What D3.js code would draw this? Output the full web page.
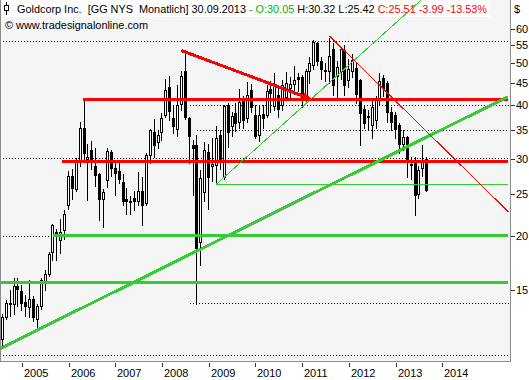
<!DOCTYPE html>
<html>
<head>
<meta charset="utf-8">
<script src="https://cdn.jsdelivr.net/npm/d3@7"></script>
<style>
  html, body { margin: 0; padding: 0; background: #fff; }
  svg { display: block; }
  text { font-family: "Liberation Sans", Arial, sans-serif; font-size: 11px; white-space: pre; }
</style>
</head>
<body>
<svg id="chart" width="529" height="380"></svg>
<script>
// Goldcorp monthly bars, first bar = Aug 2004, last bar = Sep 2013
var opens = [11.6, 13.0, 14.0, 13.9, 15.3, 14.9, 14.1, 13.7, 14.3, 12.9, 13.8, 15.7, 16.3, 18.4, 20.4, 19.6, 20.6, 23.5, 27.5, 25.6,
  29.6, 35.5, 30.0, 31.5, 29.0, 27.7, 24.3, 26.9, 31.2, 28.7, 28.2, 26.6, 24.3, 24.0, 24.5, 24.1, 25.4, 23.8, 30.7, 34.7,
  32.8, 34.6, 37.9, 44.1, 37.3, 35.2, 40.2, 48.0, 37.3, 32.4, 32.4, 19.4, 25.2, 31.2, 29.0, 29.1, 34.1, 27.3, 40.0, 35.8,
  38.4, 36.6, 40.8, 37.4, 43.3, 37.9, 34.2, 38.1, 37.9, 43.5, 39.8, 42.2, 40.0, 41.8, 43.7, 44.7, 46.4, 46.4, 41.4, 48.0,
  49.5, 55.6, 50.4, 48.2, 48.0, 53.9, 46.7, 48.0, 53.6, 45.7, 48.0, 48.8, 45.6, 39.1, 37.8, 36.0, 37.0, 41.0, 46.1, 45.0,
  38.6, 37.9, 36.0, 32.6, 33.8, 29.1, 29.6, 25.0, 28.6, 30.05];
var highs = [13.2, 14.2, 15.0, 16.0, 16.0, 15.4, 14.6, 15.8, 14.5, 13.9, 16.0, 16.7, 18.4, 21.3, 20.7, 21.9, 22.9, 28.2, 28.5, 30.2,
  36.5, 41.3, 32.5, 33.0, 31.9, 27.9, 25.6, 31.9, 31.6, 29.9, 29.6, 27.8, 25.8, 24.7, 25.3, 28.1, 27.3, 31.0, 35.3, 37.1,
  35.0, 38.3, 45.8, 46.7, 40.0, 44.5, 47.8, 53.4, 37.5, 33.2, 34.2, 28.3, 32.9, 32.5, 33.5, 35.8, 35.0, 40.0, 40.5, 38.5,
  40.5, 43.6, 42.0, 45.3, 44.8, 40.0, 40.0, 40.0, 44.5, 45.5, 47.4, 44.0, 45.7, 47.6, 46.5, 49.3, 47.5, 46.8, 48.5, 51.5,
  56.5, 56.0, 51.5, 50.0, 57.0, 55.5, 50.5, 54.5, 55.0, 51.0, 52.5, 50.0, 46.0, 40.0, 39.0, 41.0, 42.0, 47.5, 47.0, 45.5,
  39.5, 38.5, 36.3, 35.0, 34.0, 30.3, 30.3, 29.0, 32.4, 30.32];
var lows = [11.2, 12.9, 13.1, 13.2, 13.8, 13.5, 13.1, 13.0, 12.7, 12.1, 13.6, 15.0, 16.2, 17.6, 17.6, 18.3, 19.7, 23.0, 24.3, 25.3,
  29.0, 30.0, 24.2, 28.5, 26.0, 21.7, 21.0, 25.9, 27.5, 24.8, 26.5, 23.6, 22.5, 22.4, 22.9, 23.5, 21.2, 23.5, 29.4, 30.3,
  31.9, 33.2, 37.5, 37.0, 34.4, 33.9, 39.0, 37.2, 29.4, 24.8, 13.9, 17.1, 24.0, 23.1, 26.8, 26.3, 28.5, 27.0, 32.0, 33.9,
  34.9, 35.5, 35.5, 36.5, 38.5, 33.5, 33.0, 35.5, 37.5, 38.5, 39.0, 37.5, 39.0, 41.0, 41.5, 42.5, 43.0, 39.5, 40.5, 45.0,
  48.5, 49.5, 46.0, 45.5, 45.0, 42.2, 41.5, 46.0, 42.2, 44.0, 46.5, 40.5, 32.4, 35.5, 35.0, 33.5, 35.5, 40.0, 42.0, 36.5,
  35.0, 33.5, 31.0, 31.5, 27.3, 27.0, 22.3, 24.5, 27.5, 25.42];
var closes = [13.0, 14.0, 13.9, 15.3, 15.1, 14.0, 13.8, 14.3, 13.0, 13.8, 15.8, 16.3, 18.2, 21.2, 20.1, 20.4, 22.4, 27.5, 25.8, 29.6,
  35.5, 31.0, 30.3, 30.0, 27.6, 24.3, 25.2, 31.3, 28.6, 27.9, 27.0, 24.0, 24.0, 24.1, 24.0, 25.4, 23.6, 30.7, 35.1, 32.4,
  34.1, 37.3, 43.3, 38.8, 35.7, 40.1, 46.6, 37.5, 34.0, 31.9, 18.7, 27.1, 31.5, 27.3, 29.2, 33.5, 29.6, 39.8, 34.6, 37.7,
  36.4, 40.6, 36.9, 42.2, 39.5, 33.9, 37.9, 37.3, 43.1, 42.6, 44.2, 39.2, 44.5, 44.9, 44.7, 45.7, 45.9, 41.1, 47.8, 50.0,
  56.0, 50.4, 48.4, 47.8, 52.0, 44.5, 49.0, 53.7, 44.5, 48.4, 50.8, 42.4, 38.3, 36.3, 37.5, 39.6, 41.5, 45.4, 43.7, 38.6,
  36.6, 35.3, 32.6, 33.7, 29.9, 29.3, 24.8, 28.3, 29.5, 25.51];

var firstYear = 2004, firstMonth = 8;
var years = [2005, 2006, 2007, 2008, 2009, 2010, 2011, 2012, 2013, 2014];
var priceTicks = [15, 20, 25, 30, 35, 40, 45, 50, 55, 60];

// drawn horizontal levels: [start bar, price]
var redLevels = [[20.7, 41.3], [15.3, 29.8]];
var greenLevels = [[13.1, 20.1], [-0.6, 15.67]];
var greenThinLevels = [[55, 26.3]];
var dottedLevels = [[-0.6, 56.3], [48.2, 40.0], [50, 35.1], [-0.6, 30.2], [-0.6, 20.0], [48.2, 14.0], [-0.6, 10.63]];
// drawn trend lines: [bar1, price1, bar2, price2]
var greenTrend = [-0.6, 11.0, 129.9, 41.8];
var greenThinTrend = [55, 26.3, 110, 73.0];
var redThinTrend = [84, 57.7, 130, 22.7];
var redArrow = [46, 53.4, 79, 41.4];
var levelEnd = 129.9;

var header = [
  ['Goldcorp Inc.  [GG NYS  Monatlich] 30.09.2013 ', '#000'],
  ['- O:30.05 ', '#00b400'],
  ['H:30.32 L:25.42 ', '#000'],
  ['C:25.51 -3.99 -13.53%', '#ff0000']
];

var W = 510, Hp = 361;
var svg = d3.select('#chart');
var x = d3.scaleLinear().domain([-0.6, 130.4]).range([0, W]);
var y = d3.scaleLog().domain([10.3, 69.8]).range([Hp, 0]);
function py(v) { return Math.round(y(v)) + 0.5; }

svg.append('defs').append('clipPath').attr('id', 'plot-clip')
  .append('rect').attr('x', 0).attr('y', 0).attr('width', W).attr('height', Hp);
svg.select('defs').append('marker').attr('id', 'arrow-red')
  .attr('viewBox', '0 -5 10 10').attr('refX', 8).attr('refY', 0)
  .attr('markerUnits', 'userSpaceOnUse').attr('markerWidth', 11).attr('markerHeight', 9)
  .attr('orient', 'auto')
  .append('path').attr('d', 'M0,-4L10,0L0,4Z').attr('fill', '#ff0000');

svg.append('rect').attr('x', 0).attr('y', 0).attr('width', W).attr('height', Hp).attr('fill', '#f5f5f5');
svg.append('rect').attr('x', 0).attr('y', 0).attr('width', 490).attr('height', 17).attr('fill', '#fff');

var g = svg.append('g').attr('clip-path', 'url(#plot-clip)').attr('shape-rendering', 'crispEdges');

// dotted levels
g.selectAll('.dot-level').data(dottedLevels).join('line')
  .attr('x1', function(d) { return x(d[0]); }).attr('x2', x(130.15))
  .attr('y1', function(d) { return py(d[1]); }).attr('y2', function(d) { return py(d[1]); })
  .attr('stroke', '#000').attr('stroke-width', 1).attr('stroke-dasharray', '1,2');

// candles
var bars = d3.range(opens.length);
var candle = g.selectAll('.candle').data(bars).join('g');
function left(i) { return Math.round(x(i) - 1.5); }
candle.append('line')
  .attr('x1', function(i) { return left(i) + 1.5; }).attr('x2', function(i) { return left(i) + 1.5; })
  .attr('y1', function(i) { return Math.round(y(highs[i])); }).attr('y2', function(i) { return Math.round(y(lows[i])) + 1; })
  .attr('stroke', '#000');
candle.append('rect')
  .attr('x', function(i) { return closes[i] >= opens[i] ? left(i) + 0.5 : left(i); })
  .attr('width', function(i) { return closes[i] >= opens[i] ? 2 : 3; })
  .attr('y', function(i) {
    var t = Math.round(y(Math.max(opens[i], closes[i])));
    return closes[i] >= opens[i] ? t + 0.5 : t;
  })
  .attr('height', function(i) {
    var t = Math.round(y(Math.max(opens[i], closes[i]))), b = Math.round(y(Math.min(opens[i], closes[i])));
    return closes[i] >= opens[i] ? Math.max(b - t, 1) : Math.max(b - t + 1, 1);
  })
  .attr('fill', function(i) { return closes[i] >= opens[i] ? '#fff' : '#000'; })
  .attr('stroke', function(i) { return closes[i] >= opens[i] ? '#000' : 'none'; });

// horizontal levels
function hLevels(data, color, width) {
  g.append('g').selectAll('line').data(data).join('line')
    .attr('x1', function(d) { return x(d[0]); }).attr('x2', x(levelEnd))
    .attr('y1', function(d) { return Math.round(y(d[1])) + (width % 2 ? 0.5 : 0); })
    .attr('y2', function(d) { return Math.round(y(d[1])) + (width % 2 ? 0.5 : 0); })
    .attr('stroke', color).attr('stroke-width', width);
}
hLevels(greenLevels, '#33cc33', 3);
hLevels(greenThinLevels, '#33cc33', 1);
hLevels(redLevels, '#ff0000', 3);

// trend lines
function trend(d, color, width) {
  return g.append('line')
    .attr('x1', x(d[0])).attr('y1', y(d[1])).attr('x2', x(d[2])).attr('y2', y(d[3]))
    .attr('stroke', color).attr('stroke-width', width);
}
trend(greenTrend, '#33cc33', 3);
trend(greenThinTrend, '#33cc33', 1);
trend(redThinTrend, '#ff0000', 1);
trend(redArrow, '#ff0000', 3).attr('marker-end', 'url(#arrow-red)');

// frame
var frame = svg.append('g').attr('shape-rendering', 'crispEdges').attr('stroke', '#8c8c8c');
frame.append('line').attr('x1', 0.5).attr('x2', 0.5).attr('y1', 0).attr('y2', Hp + 1);
frame.append('line').attr('x1', 0).attr('x2', W + 1).attr('y1', Hp + 0.5).attr('y2', Hp + 0.5);
frame.append('line').attr('x1', W + 0.5).attr('x2', W + 0.5).attr('y1', 0).attr('y2', Hp + 1);

// price axis
var ya = svg.append('g');
ya.selectAll('line').data(priceTicks).join('line')
  .attr('shape-rendering', 'crispEdges')
  .attr('x1', W + 1).attr('x2', W + 5)
  .attr('y1', function(d) { return py(d); }).attr('y2', function(d) { return py(d); })
  .attr('stroke', '#333');
ya.selectAll('text').data(priceTicks).join('text')
  .attr('x', W + 6).attr('y', function(d) { return y(d) + 4; })
  .attr('fill', '#000').text(function(d) { return d; });
svg.append('text').attr('x', W + 4).attr('y', 13).text('$');

// time axis
function janIndex(yr) { return (yr - firstYear) * 12 + 1 - firstMonth; }
var xa = svg.append('g');
xa.selectAll('line').data(years).join('line')
  .attr('shape-rendering', 'crispEdges')
  .attr('x1', function(d) { return Math.round(x(janIndex(d))) + 0.5; })
  .attr('x2', function(d) { return Math.round(x(janIndex(d))) + 0.5; })
  .attr('y1', Hp + 2).attr('y2', Hp + 6).attr('stroke', '#333');
xa.selectAll('text').data(years).join('text')
  .attr('x', function(d) { return Math.round(x(janIndex(d))) + 2; })
  .attr('y', 377).text(function(d) { return d; });

// header
var icon = svg.append('g').attr('shape-rendering', 'crispEdges').attr('stroke', '#000');
icon.append('line').attr('x1', 6.5).attr('x2', 6.5).attr('y1', 2).attr('y2', 15);
icon.append('rect').attr('x', 4.5).attr('y', 5.5).attr('width', 4).attr('height', 5).attr('fill', '#fff');

var ht = svg.append('text').attr('x', 17).attr('y', 13)
  .attr('textLength', 470).attr('lengthAdjust', 'spacingAndGlyphs');
header.forEach(function(h) { ht.append('tspan').attr('fill', h[1]).text(h[0]); });
svg.append('text').attr('x', 5).attr('y', 29)
  .attr('textLength', 143).attr('lengthAdjust', 'spacingAndGlyphs')
  .text('\u00a9 www.tradesignalonline.com');
</script>
</body>
</html>
